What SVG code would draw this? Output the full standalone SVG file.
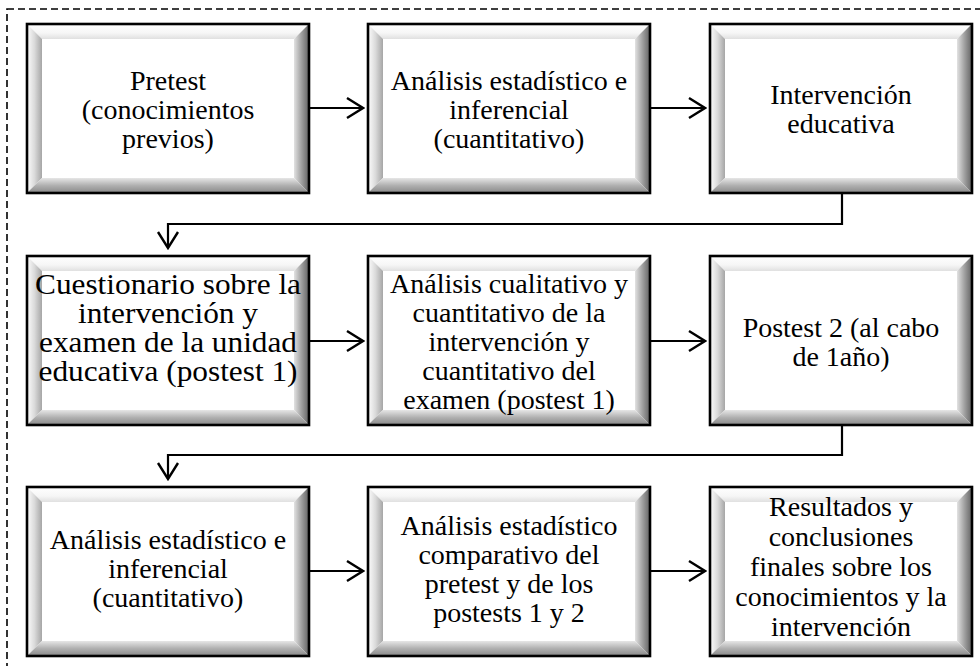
<svg xmlns="http://www.w3.org/2000/svg" xmlns:xlink="http://www.w3.org/1999/xlink" width="980" height="666" viewBox="0 0 980 666">
<style>
.t{font-family:"Liberation Serif","Times New Roman",serif;font-size:28px;fill:#000;text-anchor:middle}
.t30{font-size:28.5px}
.ln{fill:none;stroke:#000;stroke-width:2.2}
.frame{fill:none;stroke:#000;stroke-width:1.6;stroke-dasharray:7 4}
.bt{fill:url(#gTop)}.bl{fill:url(#gLeft)}.br{fill:url(#gRight)}.bb{fill:url(#gBot)}
.in{fill:#fff}.ol{fill:none;stroke:#000;stroke-width:2.6}
</style>
<defs>
<linearGradient id="gTop" x1="0" y1="0" x2="0" y2="1"><stop offset="0" stop-color="#ffffff"/><stop offset="0.6" stop-color="#f6f6f6"/><stop offset="1" stop-color="#e0e0e0"/></linearGradient>
<linearGradient id="gLeft" x1="0" y1="0" x2="1" y2="0"><stop offset="0" stop-color="#fdfdfd"/><stop offset="0.5" stop-color="#dadada"/><stop offset="1" stop-color="#a6a6a6"/></linearGradient>
<linearGradient id="gRight" x1="0" y1="0" x2="1" y2="0"><stop offset="0" stop-color="#e2e2e2"/><stop offset="0.5" stop-color="#a0a0a0"/><stop offset="1" stop-color="#626262"/></linearGradient>
<linearGradient id="gBot" x1="0" y1="0" x2="0" y2="1"><stop offset="0" stop-color="#e6e6e6"/><stop offset="0.5" stop-color="#b0b0b0"/><stop offset="1" stop-color="#888888"/></linearGradient>
<marker id="ah" viewBox="-20 -13 22 26" refX="0" refY="0" markerWidth="22" markerHeight="26" markerUnits="userSpaceOnUse" orient="auto">
<path d="M-16,-10 L0,0 L-16,10" fill="none" stroke="#000" stroke-width="2.4"/>
</marker>
<g id="bevA">
<polygon class="bt" points="0,0 282,0 267,15 15,15"/>
<polygon class="bl" points="0,0 15,15 15,154 0,169"/>
<polygon class="br" points="282,0 282,169 267,154 267,15"/>
<polygon class="bb" points="0,169 15,154 267,154 282,169"/>
<rect class="in" x="15" y="15" width="252" height="139"/>
<rect class="ol" x="0" y="0" width="282" height="169"/>
</g>
<g id="bevB">
<polygon class="bt" points="0,0 262,0 247,15 15,15"/>
<polygon class="bl" points="0,0 15,15 15,154 0,169"/>
<polygon class="br" points="262,0 262,169 247,154 247,15"/>
<polygon class="bb" points="0,169 15,154 247,154 262,169"/>
<rect class="in" x="15" y="15" width="232" height="139"/>
<rect class="ol" x="0" y="0" width="262" height="169"/>
</g>
</defs>
<rect width="980" height="666" fill="#fff"/>
<rect class="frame" x="7" y="9" width="1000" height="700"/>

<g id="n1"><use href="#bevA" x="27" y="24"/>
<text class="t" x="168" y="90">Pretest</text><text class="t" x="168" y="119">(conocimientos</text><text class="t" x="168" y="148">previos)</text></g>
<g id="n2"><use href="#bevA" x="368" y="24"/>
<text class="t" x="509" y="90">Análisis estadístico e</text><text class="t" x="509" y="119">inferencial</text><text class="t" x="509" y="148">(cuantitativo)</text></g>
<g id="n3"><use href="#bevB" x="710" y="24"/>
<text class="t" x="841" y="104">Intervención</text><text class="t" x="841" y="133">educativa</text></g>

<g id="n4"><use href="#bevA" x="27" y="256"/>
<text class="t t30" x="168" y="294" textLength="266" lengthAdjust="spacingAndGlyphs">Cuestionario sobre la</text><text class="t t30" x="168" y="323" textLength="180" lengthAdjust="spacingAndGlyphs">intervención y</text><text class="t t30" x="168" y="352" textLength="258" lengthAdjust="spacingAndGlyphs">examen de la unidad</text><text class="t t30" x="168" y="381" textLength="259" lengthAdjust="spacingAndGlyphs">educativa (postest 1)</text></g>
<g id="n5"><use href="#bevA" x="368" y="256"/>
<text class="t" x="509" y="293">Análisis cualitativo y</text><text class="t" x="509" y="322">cuantitativo de la</text><text class="t" x="509" y="351">intervención y</text><text class="t" x="509" y="380">cuantitativo del</text><text class="t" x="509" y="409">examen (postest 1)</text></g>
<g id="n6"><use href="#bevB" x="710" y="256"/>
<text class="t" x="841" y="337">Postest 2 (al cabo</text><text class="t" x="841" y="366">de 1año)</text></g>

<g id="n7"><use href="#bevA" x="27" y="487"/>
<text class="t" x="168" y="549">Análisis estadístico e</text><text class="t" x="168" y="578">inferencial</text><text class="t" x="168" y="607">(cuantitativo)</text></g>
<g id="n8"><use href="#bevA" x="368" y="487"/>
<text class="t" x="509" y="535">Análisis estadístico</text><text class="t" x="509" y="564">comparativo del</text><text class="t" x="509" y="593">pretest y de los</text><text class="t" x="509" y="622">postests 1 y 2</text></g>
<g id="n9"><use href="#bevB" x="710" y="487"/>
<text class="t" x="841" y="516">Resultados y</text><text class="t" x="841" y="546">conclusiones</text><text class="t" x="841" y="576">finales sobre los</text><text class="t" x="841" y="606">conocimientos y la</text><text class="t" x="841" y="636">intervención</text></g>

<g id="connectors">
<path class="ln" d="M309,108 H363" marker-end="url(#ah)"/>
<path class="ln" d="M650,108 H705" marker-end="url(#ah)"/>
<path class="ln" d="M842,193 V224 H168 V248" marker-end="url(#ah)"/>
<path class="ln" d="M309,341 H363" marker-end="url(#ah)"/>
<path class="ln" d="M650,341 H705" marker-end="url(#ah)"/>
<path class="ln" d="M842,425 V455 H168 V479" marker-end="url(#ah)"/>
<path class="ln" d="M309,571 H363" marker-end="url(#ah)"/>
<path class="ln" d="M650,571 H705" marker-end="url(#ah)"/>
</g>
</svg>
